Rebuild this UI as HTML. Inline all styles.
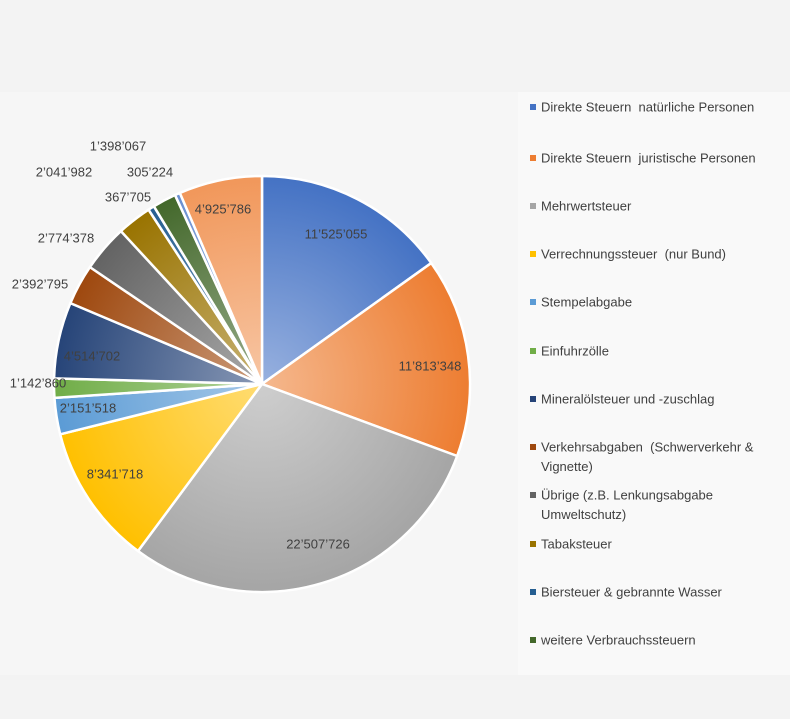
<!DOCTYPE html>
<html><head><meta charset="utf-8"><style>
html,body{margin:0;padding:0}
body{width:790px;height:719px;overflow:hidden;background:#f3f3f3;font-family:"Liberation Sans",sans-serif;position:relative}
.band{position:absolute;left:0;width:790px;background:#f7f7f7}
svg{position:absolute;left:0;top:0}
</style></head><body>
<div class="band" style="top:92px;height:583px;background:#f6f6f6"></div>
<div class="band" style="left:518px;width:272px;top:92px;height:583px;background:#f9f9f9"></div>
<svg width="790" height="719" id="s"></svg>
<script>
var vals=[11525055,11813348,22507726,8341718,2151518,1142860,4514702,2392795,2774378,2041982,367705,1398067,305224,4925786];
var cols=["#4472c4","#ed7d31","#a5a5a5","#ffc000","#5b9bd5","#70ad47","#264478","#9e480e","#636363","#997300","#255e91","#43682b","#698ed0","#f1975a"];
var cx=262,cy=384,r=208;
function tint(h,f){var n=parseInt(h.slice(1),16),R=n>>16,G=n>>8&255,B=n&255;R=Math.round(R+(255-R)*f);G=Math.round(G+(255-G)*f);B=Math.round(B+(255-B)*f);return "rgb("+R+","+G+","+B+")";}
var tot=vals.reduce(function(a,b){return a+b},0),a=0,h='<defs>';
cols.forEach(function(c,i){h+='<radialGradient id="g'+i+'" gradientUnits="userSpaceOnUse" cx="'+cx+'" cy="'+cy+'" r="'+r+'"><stop offset="0" stop-color="'+tint(c,0.45)+'"/><stop offset="1" stop-color="'+c+'"/></radialGradient>';});
h+='</defs>';
vals.forEach(function(v,i){var a2=a+v/tot*2*Math.PI;
var x1=cx+r*Math.sin(a),y1=cy-r*Math.cos(a),x2=cx+r*Math.sin(a2),y2=cy-r*Math.cos(a2);
h+='<path d="M'+cx+','+cy+'L'+x1.toFixed(2)+','+y1.toFixed(2)+'A'+r+','+r+' 0 '+((a2-a)>Math.PI?1:0)+' 1 '+x2.toFixed(2)+','+y2.toFixed(2)+'Z" fill="url(#g'+i+')" stroke="#fff" stroke-width="2.5" stroke-linejoin="round"/>';a=a2;});
var labs=[["11’525’055",336,234],["11’813’348",430,366],["22’507’726",318,544],["8’341’718",115,474],["2’151’518",88,408],["1’142’860",38,383],["4’514’702",92,356],["2’392’795",40,284],["2’774’378",66,238],["2’041’982",64,172],["367’705",128,197],["1’398’067",118,146],["305’224",150,172],["4’925’786",223,209]];
labs.forEach(function(l){h+='<text x="'+l[1]+'" y="'+(l[2]+4.5)+'" text-anchor="middle" font-size="13" fill="#404040" font-family="Liberation Sans, sans-serif">'+l[0]+'</text>';});
var leg=[["Direkte Steuern  natürliche Personen",107],["Direkte Steuern  juristische Personen",158],["Mehrwertsteuer",206],["Verrechnungssteuer  (nur Bund)",254],["Stempelabgabe",302],["Einfuhrzölle",351],["Mineralölsteuer und -zuschlag",399],["Verkehrsabgaben  (Schwerverkehr &amp;",447,"Vignette)"],["Übrige (z.B. Lenkungsabgabe",495,"Umweltschutz)"],["Tabaksteuer",544],["Biersteuer &amp; gebrannte Wasser",592],["weitere Verbrauchssteuern",640]];
leg.forEach(function(l,i){h+='<rect x="530" y="'+(l[1]-3)+'" width="6" height="6" fill="'+cols[i]+'"/>';
h+='<text x="541" y="'+(l[1]+4.5)+'" font-size="13" fill="#404040" xml:space="preserve" font-family="Liberation Sans, sans-serif">'+l[0]+'</text>';
if(l[2])h+='<text x="541" y="'+(l[1]+24)+'" font-size="13" fill="#404040" font-family="Liberation Sans, sans-serif">'+l[2]+'</text>';});
document.getElementById('s').innerHTML=h;
</script>
</body></html>
